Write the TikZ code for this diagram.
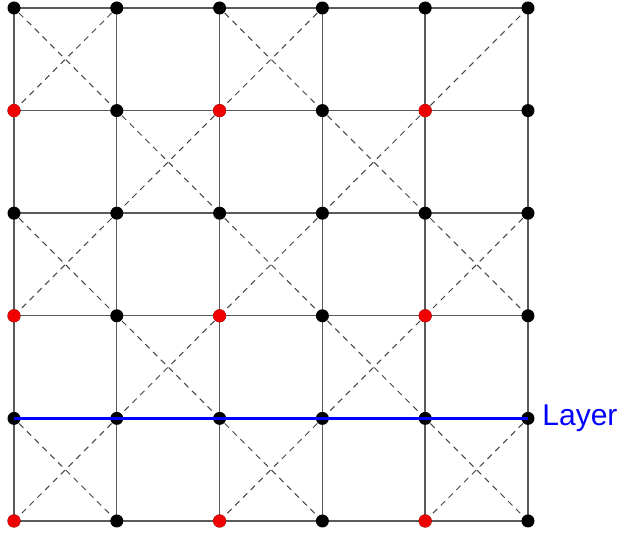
\documentclass[tikz,border=0pt]{standalone}
\usepackage{fontspec}
\setsansfont{Liberation Sans}
\usetikzlibrary{positioning}
\definecolor{gridgray}{HTML}{5A5A5A}
\definecolor{diaggray}{HTML}{444444}
\definecolor{layerblue}{HTML}{0000FF}
\definecolor{evenred}{HTML}{F00000}

\begin{document}
\begin{tikzpicture}[
    x=51.4pt, y=51.3pt,
    dot/.style      = {circle, fill=black, inner sep=0pt, minimum size=6.5pt},
    reddot/.style   = {dot, fill=evenred},
    gridline/.style = {draw=gridgray, line width=0.7pt},
    diag/.style     = {draw=diaggray, line width=0.5pt, dash pattern=on 3pt off 2.5pt},
    layer/.style    = {draw=layerblue, line width=1.2pt},
    lbl/.style      = {font=\sffamily\fontsize{15}{17}\selectfont, text=layerblue, inner sep=0pt}
  ]

  \useasboundingbox (-7pt,-6pt) rectangle (302pt,260.5pt);

  % ── Grid points ────────────────────────────────────────────────────────────
  \foreach \i in {0,...,5}
    \foreach \j in {0,...,5}
      \coordinate (p\i\j) at (\i,\j);

  % ── Solid grid lines ───────────────────────────────────────────────────────
  \foreach \k in {0,...,5} {
    \draw[gridline] (p\k0) -- (p\k5);
    \draw[gridline] (p0\k) -- (p5\k);
  }

  % ── Dashed crosses ─────────────────────────────────────────────────────────
  \foreach \i/\j in {0/4,2/4,1/3,3/3,0/2,2/2,4/2,1/1,3/1,0/0,2/0,4/0} {
    \pgfmathtruncatemacro\ip{\i+1}
    \pgfmathtruncatemacro\jp{\j+1}
    \draw[diag] (p\i\j) -- (p\ip\jp);
    \draw[diag] (p\ip\j) -- (p\i\jp);
  }
  \draw[diag] (p55) -- (p44);

  % ── Dots ───────────────────────────────────────────────────────────────────
  \foreach \i in {0,...,5}
    \foreach \j in {0,...,5}
      \node[dot] (n\i\j) at (p\i\j) {};
  \foreach \i in {0,2,4}
    \foreach \j in {0,2,4}
      \node[reddot] at (p\i\j) {};

  % ── Layer line ─────────────────────────────────────────────────────────────
  \draw[layer] (p01) -- (p51);
  \node[lbl, right=7pt of p51] (layerlbl) {Layer};

\end{tikzpicture}
\end{document}
